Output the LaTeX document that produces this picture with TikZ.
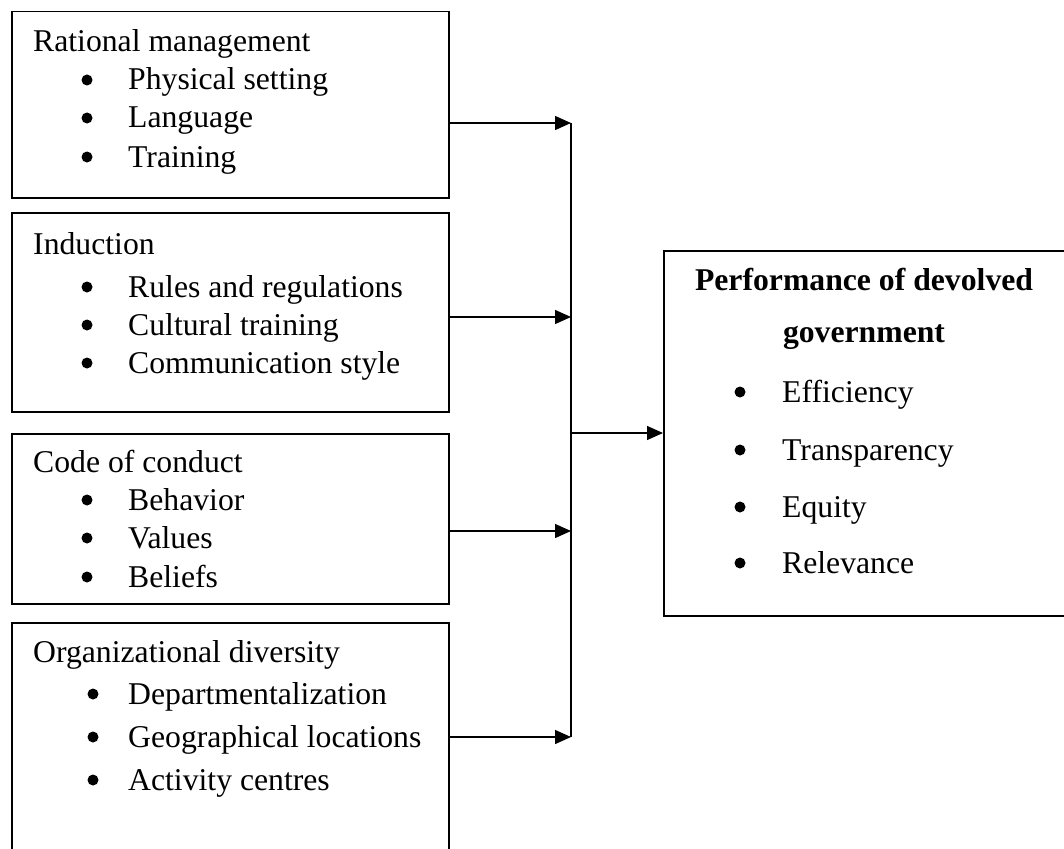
\documentclass[tikz,border=0pt]{standalone}
\usepackage{fontspec}
\setmainfont{Liberation Serif}
\usetikzlibrary{arrows.meta,positioning}

\tikzset{
  box/.style={draw, line width=1.5pt, inner sep=0pt, anchor=north west},
  txt/.style={anchor=base west, inner sep=0pt, font=\fontsize{31.7}{38}\selectfont},
  head/.style={anchor=base, inner sep=0pt, font=\fontsize{31.7}{38}\selectfont\bfseries},
  dot/.style={circle, fill, inner sep=0pt, minimum size=11pt},
  link/.style={line width=1.4pt, -{Triangle[length=16pt,width=14pt]}},
}

\begin{document}
\begin{tikzpicture}[x=1pt,y=-1pt]
    \useasboundingbox (0,0) rectangle (1064,848);

    % left boxes
    \node[box, minimum width=437pt, minimum height=186pt] (rational) at (11,11) {};
    \node[box, minimum width=437pt, minimum height=199pt] (induction) at (11,212) {};
    \node[box, minimum width=437pt, minimum height=170pt] (conduct) at (11,433) {};
    \node[box, minimum width=437pt, minimum height=240pt] (diversity) at (11,622) {};

    % right box
    \node[box, minimum width=410pt, minimum height=365pt] (perf) at (663,250) {};

    % titles
    \node[txt] (rational-t) at (33,52) {Rational management};
    \node[txt] (induction-t) at (33,254) {Induction};
    \node[txt] (conduct-t) at (33,472) {Code of conduct};
    \node[txt] (diversity-t) at (33,662) {Organizational diversity};

    % bullet lists
    \foreach \y/\name/\lbl in {90/1/Physical setting, 128/2/Language, 167/3/Training}{
        \node[dot] (rational-b\name) at (87,\y-10) {};
        \node[txt] (rational-\name) at (128,\y) {\lbl};
    }
    \foreach \y/\name/\lbl in {297/1/Rules and regulations, 335/2/Cultural training, 373/3/Communication style}{
        \node[dot] (induction-b\name) at (87,\y-10) {};
        \node[txt] (induction-\name) at (128,\y) {\lbl};
    }
    \foreach \y/\name/\lbl in {510/1/Behavior, 548/2/Values, 587/3/Beliefs}{
        \node[dot] (conduct-b\name) at (87,\y-10) {};
        \node[txt] (conduct-\name) at (128,\y) {\lbl};
    }
    \foreach \y/\name/\lbl in {704/1/Departmentalization, 747/2/Geographical locations, 790/3/Activity centres}{
        \node[dot] (diversity-b\name) at (93,\y-10) {};
        \node[txt] (diversity-\name) at (128,\y) {\lbl};
    }

    % outcome box text
    \node[head] (perf-t1) at (864,290) {Performance of devolved};
    \node[head] (perf-t2) at (864,342) {government};
    \foreach \y/\name/\lbl in {402/1/Efficiency, 460/2/Transparency, 517/3/Equity, 573/4/Relevance}{
        \node[dot] (perf-b\name) at (740,\y-10) {};
        \node[txt] (perf-\name) at (782,\y) {\lbl};
    }

    % connectors
    \coordinate (in1) at (571,123);
    \coordinate (in2) at (571,317);
    \coordinate (in3) at (571,531);
    \coordinate (in4) at (571,737);
    \coordinate (mid) at (571,433);

    \draw[line width=1.4pt] (in1) -- (in4);
    \draw[link] (rational.east |- in1) -- (in1);
    \draw[link] (induction.east |- in2) -- (in2);
    \draw[link] (conduct.east |- in3) -- (in3);
    \draw[link] (diversity.east |- in4) -- (in4);
    \draw[link] (mid) -- (perf.west |- mid);
\end{tikzpicture}
\end{document}
